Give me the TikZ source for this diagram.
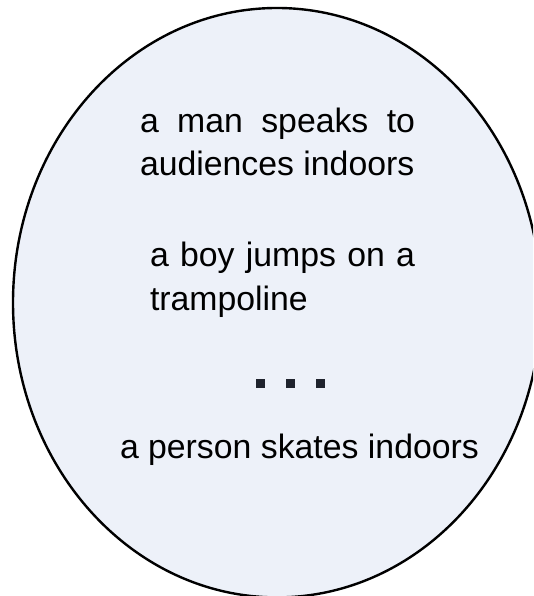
\documentclass[tikz,border=0pt]{standalone}
\usepackage{fontspec}
\setmainfont{Liberation Sans}
\definecolor{ellfill}{RGB}{237,241,249}
\definecolor{dotc}{RGB}{31,35,46}
\begin{document}
\begin{tikzpicture}[x=1pt,y=1pt,
  txt/.style={inner sep=0pt, outer sep=0pt, font=\fontsize{33.8}{43.4}\selectfont, align=justify},
]
\useasboundingbox (0,0) rectangle (533,596);
\clip (0,0) rectangle (533,596);
\draw[line width=2.4pt, fill=ellfill] (277,293.3) ellipse [x radius=264, y radius=294.7];
\node[txt, text width=275pt, anchor=base west] (t1) at (140,463.7) {\hyphenpenalty=10000 a man speaks to audiences indoors};
\node[txt, text width=265pt, anchor=base west] (t2) at (150,329.3) {\hyphenpenalty=10000 a boy jumps on a trampoline};
\node[inner sep=0pt, anchor=south west] (dots) at (256,208) {\textcolor{dotc}{\rule{9pt}{9pt}\hspace{21pt}\rule{9pt}{9pt}\hspace{21pt}\rule{9pt}{9pt}}};
\node[txt, align=left, anchor=base west] (t3) at (120,137.5) {a person skates indoors};
\end{tikzpicture}
\end{document}
